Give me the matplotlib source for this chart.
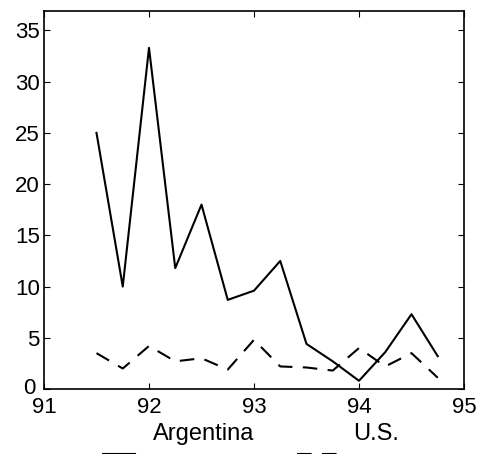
import matplotlib
matplotlib.use("Agg")
import matplotlib.pyplot as plt
import matplotlib.transforms as mtransforms
from matplotlib.lines import Line2D

# quarterly dates (year - 1900)
dates = [91.5, 91.75, 92.0, 92.25, 92.5, 92.75, 93.0, 93.25,
         93.5, 93.75, 94.0, 94.25, 94.5, 94.75]
argentina = [25.0, 10.0, 33.3, 11.8, 18.0, 8.7, 9.6, 12.5,
             4.4, 2.7, 0.8, 3.6, 7.3, 3.2]
us = [3.5, 2.0, 4.2, 2.7, 3.0, 1.9, 4.8, 2.2,
      2.1, 1.8, 4.0, 2.2, 3.5, 1.1]
series_names = ['Argentina', 'U.S.']

x_ticks = [91, 92, 93, 94, 95]
y_ticks = [0, 5, 10, 15, 20, 25, 30, 35]

plt.rcParams['font.family'] = ['Liberation Sans', 'DejaVu Sans']

W, H = 478, 454
fig = plt.figure(figsize=(W / 100, H / 100), dpi=100)
ax = fig.add_axes([44 / W, 1 - 389 / H, 420 / W, 378 / H])

dash = (0, (7, 5))
ax.plot(dates, argentina, color='black', lw=1.5, ls='-')
ax.plot(dates, us, color='black', lw=1.5, ls=dash)

ax.set_xlim(91, 95)
ax.set_ylim(0, 36.9)
ax.set_xticks(x_ticks)
ax.set_yticks(y_ticks)
ax.tick_params(direction='in', top=True, right=True, length=4,
               labelsize=16)
ax.tick_params(axis='x', pad=6)
ax.tick_params(axis='y', pad=3)
for s in ax.spines.values():
    s.set_linewidth(1.2)

# the "0" label sits a little left and up, clear of "91"
zero_lbl = ax.get_yticklabels()[0]
zero_lbl.set_transform(zero_lbl.get_transform() +
                       mtransforms.ScaledTranslation(-4 / 100, 3 / 100,
                                                     fig.dpi_scale_trans))

# legend under the plot, key lines sit at the lower edge of the figure
fig.text(153 / W, 1 - 440 / H, series_names[0], fontsize=17, va='baseline')
fig.text(353 / W, 1 - 440 / H, series_names[1], fontsize=17, va='baseline')
fig.add_artist(Line2D([103 / W, 135 / W], [0.5 / H, 0.5 / H], color='black',
                      lw=1.5, transform=fig.transFigure))
fig.add_artist(Line2D([297 / W, 345 / W], [0.5 / H, 0.5 / H], color='black',
                      lw=1.5, ls=dash, transform=fig.transFigure))

fig.savefig('out.png', dpi=100)
